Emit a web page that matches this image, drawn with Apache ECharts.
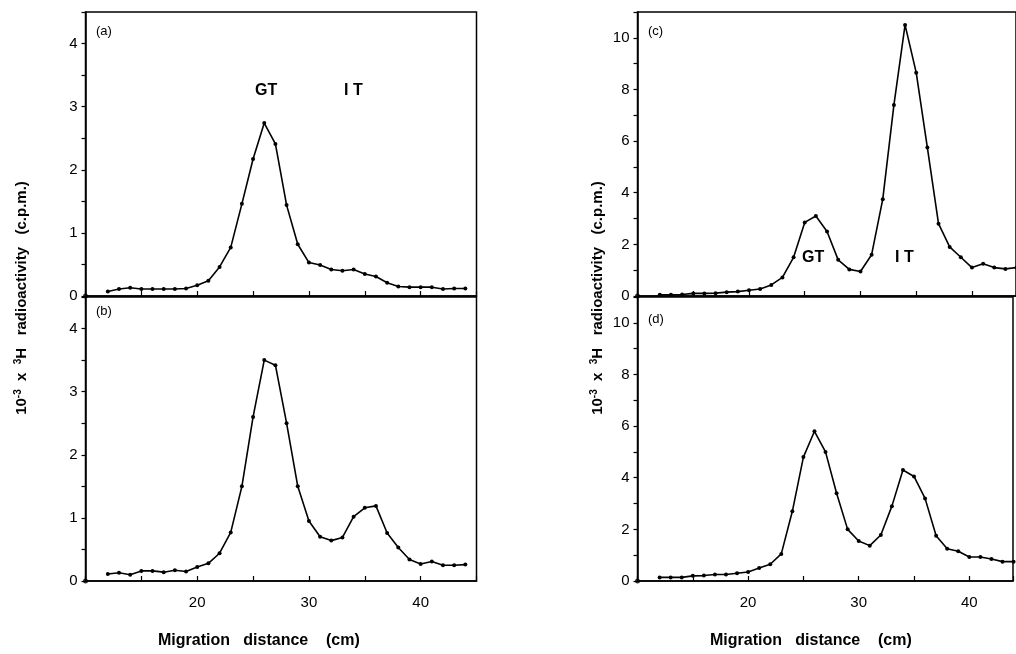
<!DOCTYPE html>
<html><head><meta charset="utf-8">
<script src="https://cdn.jsdelivr.net/npm/echarts@6/dist/echarts.min.js"></script>
<style>html,body{margin:0;padding:0;background:#fff}#c{width:1016px;height:654px}</style>
</head><body><div id="c"></div>
<script>
const distance = [12,13,14,15,16,17,18,19,20,21,22,23,24,25,26,27,28,29,30,31,32,33,34,35,36,37,38,39,40,41,42,43,44];
const panelA = [0.07,0.11,0.13,0.11,0.11,0.11,0.11,0.12,0.17,0.24,0.46,0.77,1.46,2.17,2.74,2.41,1.44,0.82,0.53,0.49,0.42,0.40,0.42,0.35,0.31,0.21,0.15,0.14,0.14,0.14,0.11,0.12,0.12];
const panelB = [0.11,0.13,0.10,0.16,0.16,0.14,0.17,0.15,0.22,0.28,0.44,0.77,1.5,2.6,3.5,3.42,2.5,1.5,0.95,0.7,0.64,0.69,1.02,1.16,1.19,0.76,0.53,0.34,0.27,0.31,0.25,0.25,0.26];
const panelC = [0.05,0.05,0.06,0.1,0.1,0.11,0.15,0.17,0.22,0.27,0.43,0.72,1.5,2.85,3.1,2.5,1.4,1.03,0.95,1.6,3.75,7.4,10.5,8.65,5.75,2.8,1.9,1.5,1.1,1.25,1.1,1.05,1.1];
const panelD = [0.14,0.14,0.14,0.2,0.21,0.25,0.25,0.3,0.35,0.5,0.65,1.05,2.7,4.8,5.8,5.0,3.4,2.0,1.55,1.37,1.78,2.9,4.3,4.05,3.2,1.75,1.25,1.15,0.93,0.93,0.85,0.75,0.75];
const originPoint = [[10,0]];
const xLabels = [20,30,40];
const panelLabels = ['(a)','(b)','(c)','(d)'];

const F = 'Liberation Sans, Arial, sans-serif';
const grids = [
  {left:85.5, top:12, width:391, height:284},
  {left:85.5, top:297, width:391, height:284},
  {left:637.5, top:12, right:0, height:284},
  {left:637.5, top:297, right:0, height:284}
];
const panels = [panelA,panelB,panelC,panelD];
const option = {
  animation:false,
  grid: grids.map(g=>Object.assign({show:true,borderColor:'#000',borderWidth:1.5,backgroundColor:'transparent'},g)),
  xAxis: grids.map((g,i)=>({
    type:'value', gridIndex:i, min:10, max:i<2?45:43.95, interval:5,
    axisLine:{show:true,onZero:false,lineStyle:{color:'#000',width:1.5}},
    axisTick:{show:true,inside:true,length:5,lineStyle:{color:'#000',width:1.2}},
    splitLine:{show:false},
    axisLabel:{show:(i%2===1), color:'#000', fontSize:15, fontFamily:F, margin:14,
      formatter:v=>xLabels.includes(v)?String(v):''}
  })),
  yAxis: grids.map((g,i)=>({
    type:'value', gridIndex:i, min:0, max:i<2?4.5:11, interval:i<2?0.5:1,
    axisLine:{show:true,lineStyle:{color:'#000',width:1.5}},
    axisTick:{show:true,length:4,lineStyle:{color:'#000',width:1.2}},
    splitLine:{show:false},
    axisLabel:{color:'#000', fontSize:15, fontFamily:F, margin:8,
      formatter:v=>{ if(i<2) return Number.isInteger(v)?String(v):''; return (v%2===0 && v<=10)?String(v):''; }}
  })),
  series: [].concat(panels.map((p,i)=>({
    type:'line', xAxisIndex:i, yAxisIndex:i, clip:false,
    data: distance.map((d,k)=>[d,p[k]]),
    symbol:'circle', symbolSize:4, itemStyle:{color:'#000'},
    lineStyle:{color:'#000',width:1.6}
  })), panels.map((p,i)=>({
    type:'scatter', xAxisIndex:i, yAxisIndex:i, data:originPoint,
    symbol:'circle', symbolSize:5, itemStyle:{color:'#000'}
  }))),
  graphic: [
    {type:'text', left:96, top:25, style:{text:panelLabels[0], font:'13px '+F, fill:'#000'}},
    {type:'text', left:96, top:305, style:{text:panelLabels[1], font:'13px '+F, fill:'#000'}},
    {type:'text', left:648, top:25, style:{text:panelLabels[2], font:'13px '+F, fill:'#000'}},
    {type:'text', left:648, top:313, style:{text:panelLabels[3], font:'13px '+F, fill:'#000'}},
    {type:'text', left:255, top:83, style:{text:'GT', font:'bold 16px '+F, fill:'#000'}},
    {type:'text', left:344, top:83, style:{text:'I T', font:'bold 16px '+F, fill:'#000'}},
    {type:'text', left:802, top:250, style:{text:'GT', font:'bold 16px '+F, fill:'#000'}},
    {type:'text', left:895, top:250, style:{text:'I T', font:'bold 16px '+F, fill:'#000'}},
    {type:'text', left:158, top:633, style:{text:'Migration   distance    (cm)', font:'bold 16px '+F, fill:'#000'}},
    {type:'text', left:710, top:633, style:{text:'Migration   distance    (cm)', font:'bold 16px '+F, fill:'#000'}},
    {type:'text', x:22, y:298, rotation:Math.PI/2, style:{
      text:'{n|10}{s|-3}{n|  x  }{s|3}{n|H   radioactivity   (c.p.m.)}', align:'center', verticalAlign:'middle',
      rich:{n:{font:'bold 15px '+F,fill:'#000'}, s:{font:'bold 10px '+F,fill:'#000',verticalAlign:'top',padding:[0,0,8,0]}}}},
    {type:'text', x:598, y:298, rotation:Math.PI/2, style:{
      text:'{n|10}{s|-3}{n|  x  }{s|3}{n|H   radioactivity   (c.p.m.)}', align:'center', verticalAlign:'middle',
      rich:{n:{font:'bold 15px '+F,fill:'#000'}, s:{font:'bold 10px '+F,fill:'#000',verticalAlign:'top',padding:[0,0,8,0]}}}}
  ]
};
echarts.init(document.getElementById('c')).setOption(option);
</script></body></html>
